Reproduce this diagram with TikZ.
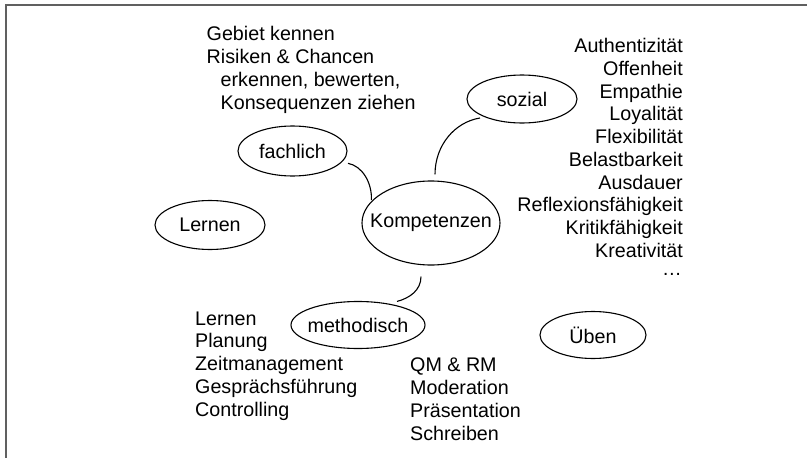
\documentclass[tikz,border=0pt]{standalone}
\usepackage{fontspec}
\setmainfont{Liberation Sans}
\usetikzlibrary{shapes.geometric,calc}
\definecolor{framegray}{HTML}{606060}
\newcommand{\ctrtext}[1]{\makebox[0pt]{#1}}
\begin{document}
\begin{tikzpicture}[x=1pt,y=-1pt,
  bubble/.style={draw,ellipse,line width=1.1pt,inner sep=0pt,font=\fontsize{19.7}{22.8}\selectfont},
  txt/.style={inner sep=0pt,font=\fontsize{19.7}{22.8}\selectfont},
  link/.style={line width=1.1pt}]
\useasboundingbox (0,0) rectangle (807,458);
\draw[framegray,line width=1.4pt] (6,458) -- (6,5) -- (807,5);

% bubbles
\node[bubble,minimum width=138pt,minimum height=84pt] (komp) at (431,223) {\ctrtext{Kompetenzen}};
\node[bubble,minimum width=109pt,minimum height=50pt] (fachlich) at (292.5,151) {\ctrtext{fachlich}};
\node[bubble,minimum width=110pt,minimum height=48pt] (sozial) at (522,99) {\ctrtext{sozial}};
\node[bubble,minimum width=110pt,minimum height=49pt] (lernen) at (210,225) {\ctrtext{Lernen}};
\node[bubble,minimum width=134pt,minimum height=47pt] (methodisch) at (358,325) {\ctrtext{methodisch}};
\node[bubble,minimum width=106pt,minimum height=47pt] (ueben) at (593,335) {\ctrtext{Üben}};

% connectors
\draw[link] ($(fachlich.center)+(55.5,12.3)$) .. controls (362,166) and (372,182) .. ($(komp.west)+(10,-23)$);
\draw[link] ($(sozial.center)+(-42,19)$) .. controls (455,122) and (435,145) .. ($(komp.north)+(4,-6)$);
\draw[link] ($(methodisch.north)+(39,0.5)$) .. controls (410,298) and (421,290) .. ($(komp.south)+(-10,11)$);

% fachlich text
\node[txt,anchor=base west] (f1) at (206.5,40) {Gebiet kennen};
\node[txt,anchor=base west] (f2) at (206.5,63.2) {Risiken \& Chancen};
\node[txt,anchor=base west] (f3) at (220.5,86) {erkennen, bewerten,};
\node[txt,anchor=base west] (f4) at (220.5,109.2) {Konsequenzen ziehen};

% sozial list
\foreach \t [count=\i] in {Authentizität,Offenheit,Empathie,Loyalität,Flexibilität,Belastbarkeit,Ausdauer,Reflexionsfähigkeit,Kritikfähigkeit,Kreativität}
  \node[txt,anchor=base east] (s\i) at (683,{52.7+(\i-1)*22.75}) {\t};
\node[txt,anchor=base east] (sdots) at (682,275) {…};

% methodisch lists
\foreach \t [count=\i] in {Lernen,Planung,Zeitmanagement,Gesprächsführung,Controlling}
  \node[txt,anchor=base west] (m\i) at (195,{325+(\i-1)*22.8}) {\t};
\foreach \t [count=\i] in {QM \& RM,Moderation,Präsentation,Schreiben}
  \node[txt,anchor=base west] (q\i) at (410,{371+(\i-1)*23}) {\t};
\end{tikzpicture}
\end{document}
